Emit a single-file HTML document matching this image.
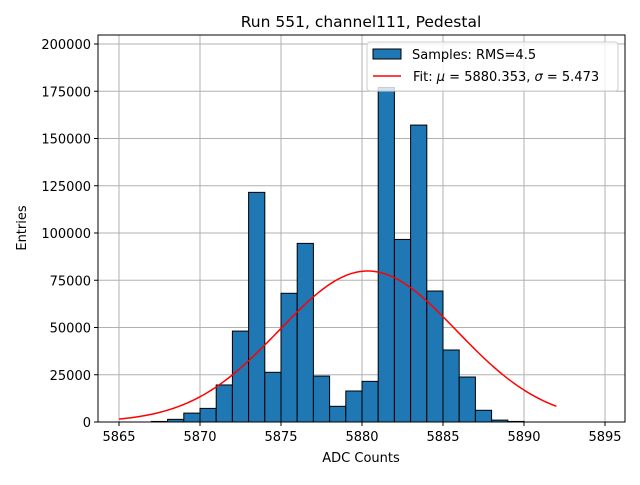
<!DOCTYPE html>
<html><head><meta charset="utf-8"><style>
body{margin:0;background:#fff}
svg text{font-family:"DejaVu Sans","Liberation Sans",sans-serif;font-size:13px;fill:#000}
</style></head><body>
<svg id="chart" width="640" height="480" xmlns="http://www.w3.org/2000/svg">
<rect width="640" height="480" fill="#fff"/>
<text x="361" y="27" text-anchor="middle" font-size="16" style="font-size:15.5px">Run 551, channel111, Pedestal</text>
<g id="grid"></g>
<g id="bars"></g>
<g id="fit"></g>
<rect x="98" y="35" width="527" height="387" fill="none" stroke="#000" stroke-width="1"/>
<g id="axes"></g>
<text x="361" y="462" text-anchor="middle">ADC Counts</text>
<text transform="translate(26,228) rotate(-90)" text-anchor="middle">Entries</text>
<g>
<rect x="367" y="42" width="251" height="49" rx="3" fill="#fff" fill-opacity="0.8" stroke="#ccc"/>
<rect x="373" y="49" width="28" height="10" fill="#1f77b4" stroke="#000"/>
<text x="412" y="59">Samples: RMS=4.5</text>
<line x1="373" y1="76" x2="401" y2="76" stroke="red" stroke-width="1.5"/>
<text x="413" y="81">Fit: <tspan font-style="italic">μ</tspan> = 5880.353, <tspan font-style="italic">σ</tspan> = 5.473</text>
</g>
</svg>
<script>
const binStarts=[5867,5868,5869,5870,5871,5872,5873,5874,5875,5876,5877,5878,5879,5880,5881,5882,5883,5884,5885,5886,5887,5888,5889];
const counts=[300,1400,4700,7200,19600,48100,121500,26300,68100,94500,24300,8300,16400,21500,177000,96600,157100,69300,38100,23800,6200,1000,300];
const xTicks=[5865,5870,5875,5880,5885,5890,5895];
const yTicks=[0,25000,50000,75000,100000,125000,150000,175000,200000];
const fitMu=5880.353, fitSigma=5.473, fitAmp=79900, fitStart=5865, fitEnd=5892;
const NS="http://www.w3.org/2000/svg";
const X=v=>119+(v-5865)*16.2;
const Y=v=>422-v*0.00189;
function mk(tag,attrs,parent){const e=document.createElementNS(NS,tag);for(const k in attrs)e.setAttribute(k,attrs[k]);parent.appendChild(e);return e;}
const grid=document.getElementById('grid'),bars=document.getElementById('bars'),fit=document.getElementById('fit'),axes=document.getElementById('axes');
xTicks.forEach(t=>{
 const g=mk('line',{x1:X(t),x2:X(t),y1:35,y2:422,stroke:'#b0b0b0','stroke-width':1},grid);
 
 
 const tk=mk('line',{x1:X(t),x2:X(t),y1:422,y2:426,stroke:'#000'},axes);
 
 
 const tx=mk('text',{x:X(t),y:441,'text-anchor':'middle'},axes);tx.textContent=t;
 
 
});
yTicks.forEach(t=>{
 const g=mk('line',{x1:98,x2:625,y1:Y(t),y2:Y(t),stroke:'#b0b0b0','stroke-width':1},grid);
 
 
 const tk=mk('line',{x1:94,x2:98,y1:Y(t),y2:Y(t),stroke:'#000'},axes);
 
 
 const tx=mk('text',{x:91,y:Y(t)+5,'text-anchor':'end'},axes);tx.textContent=t;
 
 
});
binStarts.forEach((b,i)=>{
 const r=mk('rect',{x:X(b),y:Y(counts[i]),width:X(b+1)-X(b),height:Y(0)-Y(counts[i]),fill:'#1f77b4',stroke:'#000','stroke-width':1},bars);
 
 
});
let d='';
for(let i=0;i<=200;i++){const x=fitStart+(fitEnd-fitStart)*i/200;const y=fitAmp*Math.exp(-((x-fitMu)**2)/(2*fitSigma*fitSigma));d+=(i?'L':'M')+X(x).toFixed(2)+','+Y(y).toFixed(2);}
const p=mk('path',{d:d,fill:'none',stroke:'red','stroke-width':1.5},fit);


</script>
</body></html>
